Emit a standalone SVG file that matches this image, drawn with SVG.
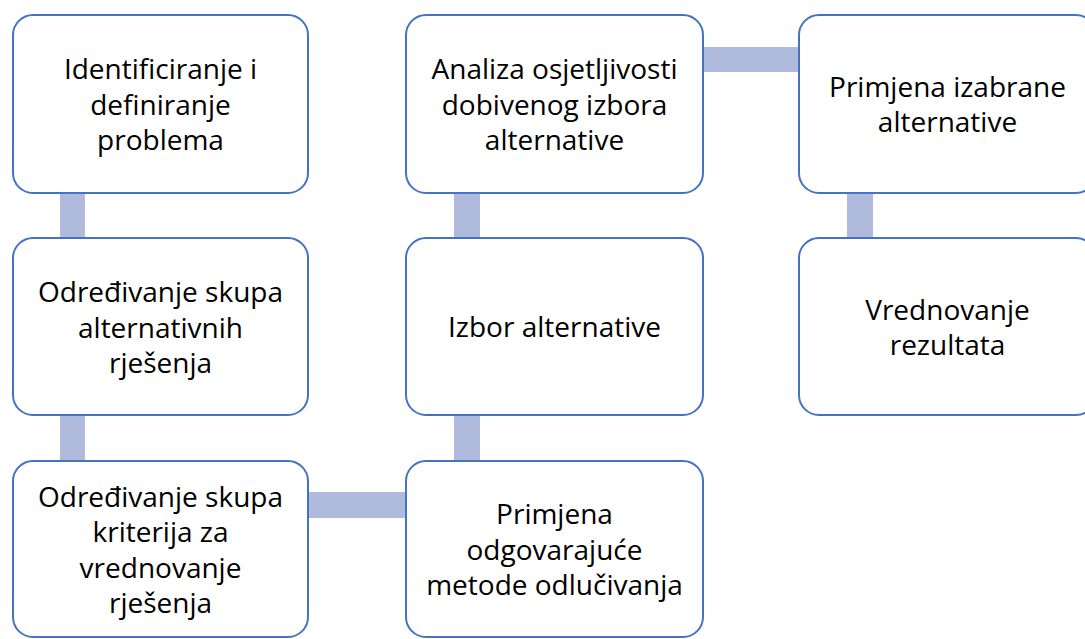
<svg xmlns="http://www.w3.org/2000/svg" width="1085" height="639" viewBox="0 0 1085 639">
<style>
.box{fill:#ffffff;stroke:#4472C4;stroke-width:2}
.conn{fill:#AFBADC}
text{font-family:"Open Sans","Liberation Sans",sans-serif;font-size:28px;fill:#000;text-anchor:middle}
</style>
<rect width="1085" height="639" fill="#ffffff"/>
<g id="connectors">
<rect class="conn" x="60" y="190" width="25" height="52"/>
<rect class="conn" x="60" y="412" width="25" height="52"/>
<rect class="conn" x="454" y="190" width="26" height="52"/>
<rect class="conn" x="454" y="412" width="26" height="52"/>
<rect class="conn" x="847" y="190" width="26" height="52"/>
<rect class="conn" x="700" y="47" width="102" height="25"/>
<rect class="conn" x="305" y="492" width="104" height="26"/>
</g>
<g id="n1"><rect class="box" x="13" y="15" width="295" height="178" rx="20"/>
<text><tspan x="160.5" y="79">Identificiranje i</tspan><tspan x="160.5" y="115">definiranje</tspan><tspan x="160.5" y="150">problema</tspan></text></g>
<g id="n2"><rect class="box" x="13" y="238" width="295" height="177" rx="20"/>
<text><tspan x="160.5" y="302">Određivanje skupa</tspan><tspan x="160.5" y="337.5">alternativnih</tspan><tspan x="160.5" y="373">rješenja</tspan></text></g>
<g id="n3"><rect class="box" x="13" y="461" width="295" height="176" rx="20"/>
<text><tspan x="160.5" y="507">Određivanje skupa</tspan><tspan x="160.5" y="542">kriterija za</tspan><tspan x="160.5" y="578">vrednovanje</tspan><tspan x="160.5" y="613">rješenja</tspan></text></g>
<g id="n4"><rect class="box" x="406" y="461" width="297" height="176" rx="20"/>
<text><tspan x="554.5" y="524">Primjena</tspan><tspan x="554.5" y="560">odgovarajuće</tspan><tspan x="554.5" y="595">metode odlučivanja</tspan></text></g>
<g id="n5"><rect class="box" x="406" y="238" width="297" height="177" rx="20"/>
<text><tspan x="554.5" y="337">Izbor alternative</tspan></text></g>
<g id="n6"><rect class="box" x="406" y="15" width="297" height="178" rx="20"/>
<text><tspan x="554.5" y="79">Analiza osjetljivosti</tspan><tspan x="554.5" y="115">dobivenog izbora</tspan><tspan x="554.5" y="150">alternative</tspan></text></g>
<g id="n7"><rect class="box" x="799" y="15" width="297" height="178" rx="20"/>
<text><tspan x="947.5" y="97">Primjena izabrane</tspan><tspan x="947.5" y="132">alternative</tspan></text></g>
<g id="n8"><rect class="box" x="799" y="238" width="297" height="177" rx="20"/>
<text><tspan x="947.5" y="319.5">Vrednovanje</tspan><tspan x="947.5" y="355">rezultata</tspan></text></g>
</svg>
